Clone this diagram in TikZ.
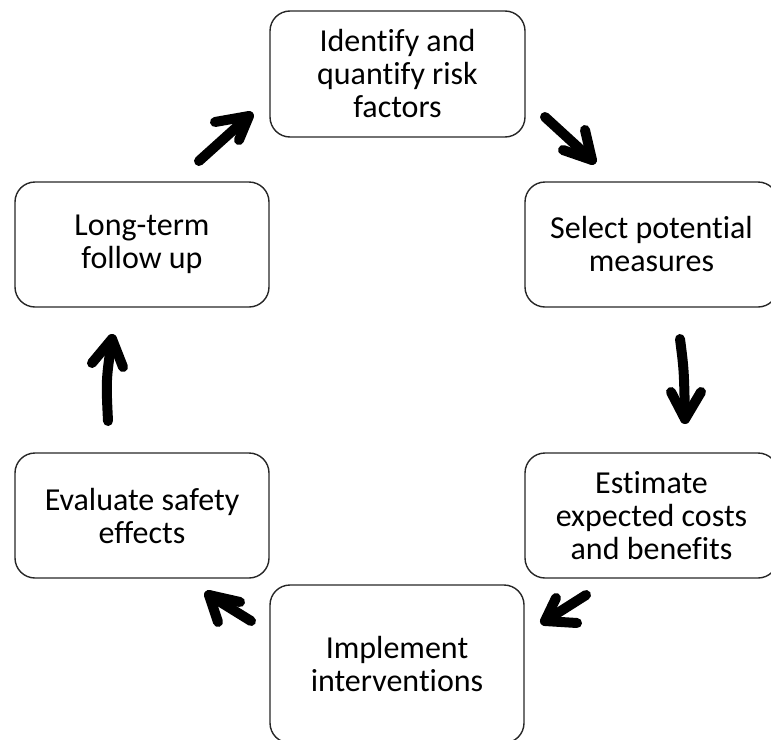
\documentclass[tikz,border=0pt]{standalone}
\usepackage{fontspec}
\setmainfont{Carlito}[Ligatures=NoCommon]
\begin{document}
\begin{tikzpicture}[x=1pt,y=-1pt,
  stage/.style={draw=black!85, line width=1.4pt, rounded corners=20pt, align=center,
    inner sep=0pt, font=\fontsize{32}{33}\selectfont, text=black},
  flow/.style={line width=10pt, line cap=round, line join=round, black}]
\useasboundingbox (0,0) rectangle (771,739);
\begin{scope}
\clip (0,0) rectangle (771,739);
\node[stage, minimum width=255pt, minimum height=126pt] (ident) at (397.5,74) {Identify and\\quantify risk\\factors};
\node[stage, minimum width=253pt, minimum height=125pt] (select) at (651.5,244.5) {Select potential\\measures};
\node[stage, minimum width=253pt, minimum height=125pt] (estim) at (651.5,515.5) {Estimate\\expected costs\\and benefits};
\node[stage, minimum width=254pt, minimum height=158pt] (impl) at (397,664) {Implement\\interventions};
\node[stage, minimum width=254pt, minimum height=125pt] (evalu) at (142,515.5) {Evaluate safety\\effects};
\node[stage, minimum width=254pt, minimum height=125pt] (longt) at (142,244.5) {Long-term\\follow up};
\end{scope}
% arrow 1: long-term -> identify
\coordinate (a1t) at (199,161); \coordinate (a1h) at (249,116);
\coordinate (a1l) at (215,122); \coordinate (a1r) at (239,140);
\draw[flow] (a1t) -- (a1h); \draw[flow] (a1l) -- (a1h) -- (a1r);
% arrow 2: identify -> select
\coordinate (a2t) at (545,117); \coordinate (a2h) at (592,160);
\coordinate (a2l) at (563,150); \coordinate (a2r) at (585,130);
\draw[flow] (a2t) -- (a2h); \draw[flow] (a2l) -- (a2h) -- (a2r);
% arrow 3: select -> estimate
\coordinate (a3t) at (680,339); \coordinate (a3h) at (685,419);
\coordinate (a3l) at (671,392); \coordinate (a3r) at (701,392);
\draw[flow] (a3t) .. controls (684,370) .. (a3h); \draw[flow] (a3l) -- (a3h) -- (a3r);
% arrow 4: estimate -> implement
\coordinate (a4t) at (586,595); \coordinate (a4h) at (545,621);
\coordinate (a4l) at (556,598); \coordinate (a4r) at (577,623);
\draw[flow] (a4t) -- (a4h); \draw[flow] (a4l) -- (a4h) -- (a4r);
% arrow 5: implement -> evaluate
\coordinate (a5t) at (251,621); \coordinate (a5h) at (209,595);
\coordinate (a5l) at (240,602); \coordinate (a5r) at (218,622);
\draw[flow] (a5t) -- (a5h); \draw[flow] (a5l) -- (a5h) -- (a5r);
% arrow 6: evaluate -> long-term
\coordinate (a6t) at (108,421); \coordinate (a6h) at (112,339);
\coordinate (a6l) at (92,363); \coordinate (a6r) at (123,367);
\draw[flow] (a6t) .. controls (106,380) .. (a6h); \draw[flow] (a6l) -- (a6h) -- (a6r);
\end{tikzpicture}
\end{document}
